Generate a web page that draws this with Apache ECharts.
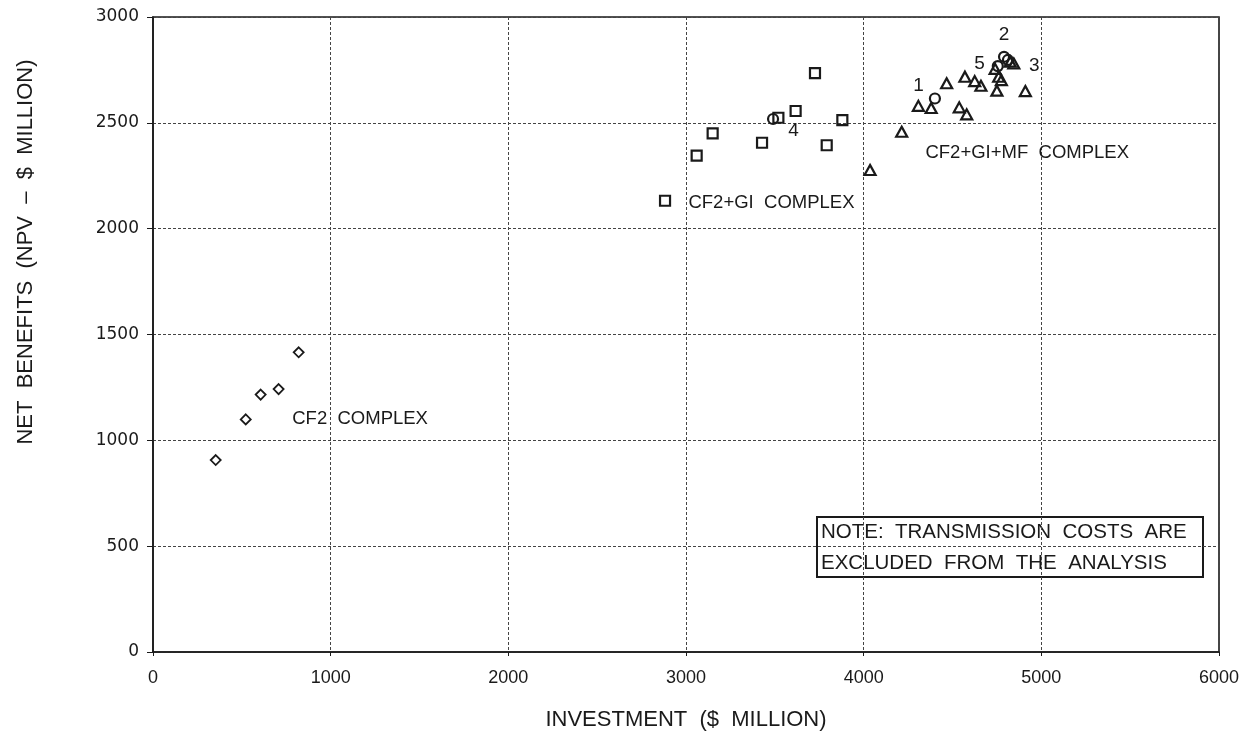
<!DOCTYPE html>
<html>
<head>
<meta charset="utf-8">
<script src="https://cdn.jsdelivr.net/npm/echarts@6/dist/echarts.min.js"></script>
<style>
  html, body { margin: 0; padding: 0; background: #fff; }
  #chart { width: 1256px; height: 756px; }
</style>
</head>
<body>
<div id="chart"></div>
<script>
// Investment vs. net benefits for three development complexes

// CF2 complex (diamonds)
const cf2X = [353, 522, 606, 707, 820];
const cf2Y = [907, 1099, 1216, 1242, 1416];

// CF2+GI complex (squares)
const giX = [2882, 3060, 3150, 3428, 3520, 3617, 3726, 3792, 3880];
const giY = [2132, 2345, 2450, 2406, 2524, 2556, 2735, 2394, 2513];

// CF2+GI+MF complex (triangles)
const mfX = [4036, 4214, 4308, 4380, 4467, 4538, 4580, 4570, 4625, 4660, 4740, 4760, 4750, 4775, 4825, 4845, 4910];
const mfY = [2277, 2458, 2580, 2570, 2687, 2573, 2540, 2718, 2697, 2675, 2755, 2718, 2652, 2702, 2789, 2780, 2650];

// Numbered options (circles)
const optNames = ['1', '2', '3', '4', '5'];
const optX = [4401, 4790, 4812, 3490, 4755];
const optY = [2615, 2812, 2797, 2518, 2768];

// Axis ticks
const xTicks = [0, 1000, 2000, 3000, 4000, 5000, 6000];
const yTicks = [0, 500, 1000, 1500, 2000, 2500, 3000];

// Group captions, anchored at their left end
const captionText = ['CF2  COMPLEX', 'CF2+GI  COMPLEX', 'CF2+GI+MF  COMPLEX'];
const captionX = [781, 3011, 4345];
const captionY = [1099, 2123, 2356];

const FONT = 'Liberation Sans, DejaVu Sans, sans-serif';
const WIDE = 'DejaVu Sans, Verdana, sans-serif';
const INK = '#1a1a1a';

const zip = (xs, ys) => xs.map((x, i) => [x, ys[i]]);

const hollow = { color: 'rgba(0,0,0,0)', borderColor: INK, borderWidth: 2.2, opacity: 1 };

const optLabelPos = {
  '1': { position: 'left', offset: [0, -13] },
  '2': { position: 'top', offset: [0, -1] },
  '3': { position: 'right', offset: [10, 6] },
  '4': { position: 'right', offset: [4, 12] },
  '5': { position: 'left', offset: [-2, -2] }
};

const chart = echarts.init(document.getElementById('chart'), null, { renderer: 'canvas' });

chart.setOption({
  animation: false,
  backgroundColor: '#fff',
  grid: {
    left: 153, right: 37, top: 17, bottom: 104,
    show: true, borderColor: INK, borderWidth: 1.6, backgroundColor: 'transparent'
  },
  xAxis: {
    type: 'value',
    min: xTicks[0], max: xTicks[xTicks.length - 1], interval: 1000,
    name: 'INVESTMENT  ($  MILLION)',
    nameLocation: 'middle', nameGap: 57,
    nameTextStyle: { fontFamily: FONT, fontSize: 22, color: INK },
    axisLine: { show: true, onZero: false, lineStyle: { color: INK, width: 1.6 } },
    axisTick: { show: true, inside: false, length: 4, lineStyle: { color: INK } },
    axisLabel: { fontFamily: FONT, fontSize: 18, color: INK, margin: 17, formatter: v => String(v) },
    splitLine: { show: true, lineStyle: { color: '#444', width: 1, type: [3, 2] } }
  },
  yAxis: {
    type: 'value',
    min: yTicks[0], max: yTicks[yTicks.length - 1], interval: 500,
    axisLine: { show: true, onZero: false, lineStyle: { color: INK, width: 1.6 } },
    axisTick: { show: true, inside: false, length: 6, lineStyle: { color: INK } },
    axisLabel: { fontFamily: WIDE, fontSize: 17, color: INK, margin: 14, formatter: v => String(v) },
    splitLine: { show: true, lineStyle: { color: '#444', width: 1, type: [3, 2] } }
  },
  graphic: [
    {
      type: 'text',
      x: 26, y: 252,
      rotation: Math.PI / 2,
      style: {
        text: 'NET  BENEFITS  (NPV  –  $  MILLION)',
        font: '22px ' + FONT, fill: INK,
        align: 'center', verticalAlign: 'middle'
      },
      silent: true
    },
    {
      type: 'group', x: 817, y: 517,
      children: [
        { type: 'rect', shape: { x: 0, y: 0, width: 386, height: 60 },
          style: { fill: '#fff', stroke: INK, lineWidth: 2 } },
        { type: 'text', x: 4, y: 15,
          style: { text: 'NOTE:  TRANSMISSION  COSTS  ARE', font: '20.5px ' + FONT, fill: INK, verticalAlign: 'middle' } },
        { type: 'text', x: 4, y: 46,
          style: { text: 'EXCLUDED  FROM  THE  ANALYSIS', font: '20.5px ' + FONT, fill: INK, verticalAlign: 'middle' } }
      ]
    }
  ],
  series: [
    {
      name: 'CF2', type: 'scatter', symbol: 'diamond', symbolSize: [10, 10],
      itemStyle: { color: 'rgba(0,0,0,0)', borderColor: INK, borderWidth: 1.8, opacity: 1 },
      data: zip(cf2X, cf2Y), z: 3
    },
    {
      name: 'CF2+GI', type: 'scatter', symbol: 'rect', symbolSize: 10,
      itemStyle: hollow, data: zip(giX, giY), z: 3
    },
    {
      name: 'CF2+GI+MF', type: 'scatter', symbol: 'triangle', symbolSize: [11, 10],
      itemStyle: hollow, data: zip(mfX, mfY), z: 3
    },
    {
      name: 'Options', type: 'scatter', symbol: 'circle', symbolSize: 10,
      itemStyle: hollow, z: 4,
      data: optNames.map((n, i) => ({
        value: [optX[i], optY[i]],
        label: Object.assign({
          show: true, formatter: n,
          fontFamily: FONT, fontSize: 19, color: INK
        }, optLabelPos[n])
      }))
    },
    {
      name: 'Captions', type: 'scatter', symbol: 'circle', symbolSize: 1,
      silent: true, z: 5,
      itemStyle: { color: 'rgba(0,0,0,0)', opacity: 1 },
      data: captionText.map((t, i) => ({
        value: [captionX[i], captionY[i]],
        label: {
          show: true, formatter: t, position: 'right', distance: 0,
          fontFamily: FONT, fontSize: 18.5, color: INK
        }
      }))
    }
  ]
});
</script>
</body>
</html>
